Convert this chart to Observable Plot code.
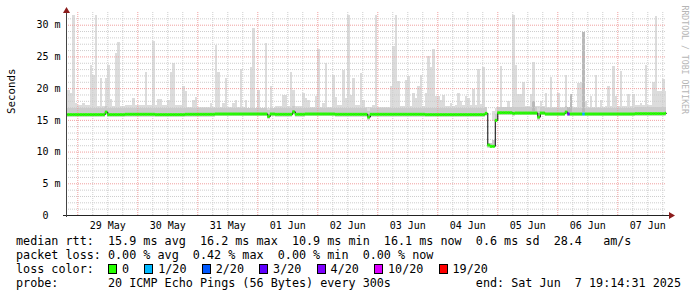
<!DOCTYPE html>
<html><head><meta charset="utf-8">
<script src="https://cdn.jsdelivr.net/npm/d3@7"></script>
<script src="https://cdn.jsdelivr.net/npm/@observablehq/plot@0.6"></script>
<style>
html,body{margin:0;padding:0;background:#fff;}
#wrap{position:relative;width:697px;height:297px;overflow:hidden;font-family:"DejaVu Sans Mono",monospace;}
#chart svg{display:block}
#legend{position:absolute;left:16px;top:234px;font-size:11.75px;line-height:14px;white-space:pre;color:#000;}
.box{display:inline-block;width:7px;height:8px;border:1px solid #000;vertical-align:-1px;margin-right:5px;}
.gap{display:inline-block;width:1px;}
</style></head><body>
<div id="wrap"><div id="chart"></div><div id="legend"></div></div>
<script>
// ---- time frame (UTC) ----
const BIN0 = Date.UTC(2025, 4, 28, 19, 0, 0);   // first hourly bin
const START = Date.UTC(2025, 4, 28, 19, 29, 0);
const END = Date.UTC(2025, 5, 7, 19, 29, 0);
const NBINS = 241;

// ---- smoke: hourly maxima of the spikes (ms) ----
const spikeHour = [0,1,2,3,4,7,10,11,12,14,16,17,18,20,21,27,32,35,37,38,41,42,43,47,48,51,52,58,60,61,63,64,67,68,70,72,74,75,77,80,82,87,88,90,91,95,96,97,100,101,103,104,107,108,111,112,113,114,115,118,119,123,124,128,129,130,131,132,133,136,137,139,140,141,142,144,145,146,147,148,149,150,151,154,157,158,160,161,163,165,166,167,174,177,179,180,181,182,183,186,187,190,192,194,197,200,202,205,206,207,208,210,212,214,217,219,220,222,225,227,230,232,235,236,237,238,239,240];
const spikeMax = [19.7,19.7,19.2,31.6,17.7,17.7,23.7,22.1,31.6,21.6,21.6,23.7,18.3,25.5,27.2,18.4,22.6,27.5,18.3,18.3,18.2,22.5,23.9,20.4,19.5,18.2,18.6,17.7,26.8,22.6,17.6,21.6,17.6,18.2,23.0,18.2,23.3,29.5,19.7,27.1,20.3,18.9,18.9,22.6,19.7,19.3,18.5,18.2,18.7,26.1,17.6,23.9,22.1,18.6,22.9,18.5,31.6,18.9,21.6,22.4,18.2,17.4,31.6,17.1,17.1,20.3,26.7,31.6,21.2,21.3,21.9,19.2,18.4,20.4,22.1,19.2,25.0,23.4,26.2,18.7,18.7,18.2,18.9,17.7,19.2,18.0,18.7,18.4,19.9,23.0,17.5,23.4,23.5,17.9,31.6,23.7,19.0,19.0,20.9,19.0,24.1,18.0,19.2,21.8,19.3,22.1,19.1,20.8,21.0,28.8,17.9,18.7,22.1,18.2,20.4,23.5,18.7,22.7,19.0,19.0,17.7,23.7,20.9,31.4,19.5,19.5,21.4,19.5];
// dense smoke top, per 12 hours
const bandTop12h = [17.3,17.2,17.3,17.3,17.0,17.0,16.9,17.2,17.1,17.3,17.0,17.2,17.2,17.3,17.0,17.2,17.1,17.0,17.2,17.3,17.3];
// smoke during the drop on 04 Jun
const smokeHour = [169,170,171,172];
const smokeTop  = [11.4,11.3,16.4,16.8];
const smokeLo   = [10.6,10.5,14.8,14.6];
// darker smoke patches
const darkHour = [187,201,202,207];
const darkTop  = [18.0,17.0,19.1,28.8];

// ---- median rtt (ms) ----
const medianBase12h = [15.9,15.9,15.95,15.9,15.95,16.0,16.0,15.95,16.0,15.95,15.95,15.95,15.9,15.9,16.1,16.15,16.0,16.0,16.0,16.05,16.1];
const medianHour  = [16,81,91,121,169,170,171,172,173,174,175,176,177,178,189,200,240];
const medianValue = [16.3,15.6,16.35,15.5,11.1,10.9,10.9,15.0,16.2,16.2,16.2,16.2,16.2,16.2,15.5,16.3,16.1];

// ---- packet loss colour ----
const lossLabels = ["0","1/20","2/20","3/20","4/20","10/20","19/20"];
const lossColors = ["#26ff00","#00b8ff","#0059ff","#5e00ff","#7e00ff","#dd00ff","#ff0000"];
const lossHour  = [201,207];
const lossLevel = ["4/20","1/20"];

// ---- axes ----
const yTicks = [0,5,10,15,20,25,30];
const dayLabels = ["29 May","30 May","31 May","01 Jun","02 Jun","03 Jun","04 Jun","05 Jun","06 Jun","07 Jun"];
const dayNoons = d3.range(10).map(i => new Date(Date.UTC(2025,4,29,12) + i*864e5));

// ---- text ----
const legendTop = [
  "median rtt:  15.9 ms avg  16.2 ms max  10.9 ms min  16.1 ms now  0.6 ms sd  28.4   am/s",
  "packet loss: 0.00 % avg  0.42 % max  0.00 % min  0.00 % now"
];
const probeText = "probe:       20 ICMP Echo Pings (56 Bytes) every 300s            end: Sat Jun  7 19:14:31 2025";

// ---- build tables ----
const H = 3600e3;
const median = d3.range(NBINS).map(k => medianBase12h[Math.floor(k/12)]);
medianHour.forEach((k,i) => median[k] = medianValue[i]);
const spikeMap = new Map(spikeHour.map((k,i)=>[k,spikeMax[i]]));
const smokeMap = new Map(smokeHour.map((k,i)=>[k,[smokeLo[i],smokeTop[i]]]));
const darkMap = new Map(darkHour.map((k,i)=>[k,darkTop[i]]));
const lossMap = new Map(lossHour.map((k,i)=>[k,lossLevel[i]]));

const bins = d3.range(NBINS).map(k => {
  const t1 = new Date(Math.max(BIN0 + k*H, START));
  const t2 = new Date(Math.min(BIN0 + (k+1)*H, END));
  const med = median[k];
  let lo = med - 0.45, top = Math.max(bandTop12h[Math.floor(k/12)], spikeMap.get(k) ?? 0);
  if (smokeMap.has(k)) [lo, top] = smokeMap.get(k);
  const loss = lossMap.get(k) ?? "0";
  return {k, t1, t2, med, lo, top,
    bandLo: med - 0.25, bandHi: Math.min(top, med + 0.9),
    dark: darkMap.get(k), color: lossColors[lossLabels.indexOf(loss)]};
}).filter(b => b.t2 > b.t1);
const linePts = bins.map(b => ({t: b.t1, v: b.med})).concat([{t: new Date(END), v: bins[bins.length-1].med}]);

const minorY = d3.range(1, 32).filter(v => v % 5 !== 0);
const majorY = [5,10,15,20,25,30];
const midnights = d3.range(10).map(i => new Date(Date.UTC(2025,4,29) + i*864e5));
const sixHours = d3.range(0, 11*4).map(i => new Date(Date.UTC(2025,4,28) + i*6*H))
  .filter(d => d > START && d < END && d.getUTCHours() !== 0);

const gridMinor = {stroke: "#cdcdcd", strokeDasharray: "1,1", strokeWidth: 1};
const gridMajor = {stroke: "#f0a0a0", strokeDasharray: "1,1", strokeWidth: 1};

const plot = Plot.plot({
  width: 697, height: 232,
  marginLeft: 66, marginRight: 31, marginTop: 12, marginBottom: 17,
  style: {fontFamily: "DejaVu Sans Mono", fontSize: "10px", color: "#000", background: "#fff"},
  x: {type: "utc", domain: [new Date(START), new Date(END)]},
  y: {domain: [0, 32]},
  marks: [
    Plot.rect(bins, {x1: "t1", x2: "t2", y1: "lo", y2: "top", fill: "#dcdcdc", inset: 0, shapeRendering: "crispEdges"}),
    Plot.rect(bins, {x1: "t1", x2: "t2", y1: "bandLo", y2: "bandHi", fill: "#cbcbcb", inset: 0, shapeRendering: "crispEdges"}),
    Plot.rect(bins.filter(b => b.dark), {x1: "t1", x2: "t2", y1: d => d.med + 0.3, y2: "dark", fill: "#b9b9b9", inset: 0, shapeRendering: "crispEdges"}),
    Plot.ruleY(minorY, gridMinor),
    Plot.ruleX(sixHours, gridMinor),
    Plot.ruleY(majorY, gridMajor),
    Plot.ruleX(midnights, gridMajor),
    Plot.line(linePts, {x: "t", y: "v", curve: "step-after", stroke: "#000", strokeWidth: 1}),
    Plot.ruleY(bins, {x1: "t1", x2: "t2", y: "med", stroke: "color", strokeWidth: 3}),
    Plot.axisY(yTicks, {tickSize: 0, tickPadding: 6, label: null,
      tickFormat: d => d === 0 ? "0\u00a0\u00a0" : d + " m"}),
    Plot.axisX(dayNoons, {tickSize: 0, tickPadding: 6, label: null,
      tickFormat: (d, i) => dayLabels[i]}),
    Plot.text(["Seconds"], {frameAnchor: "left", dx: -55, rotate: -90, fontSize: 10.8, fill: "#000"}),
    Plot.text(["RRDTOOL / TOBI OETIKER"], {frameAnchor: "top-right", dx: 21, dy: -7, rotate: 90,
      textAnchor: "start", fontSize: 8.2, fill: "#b5b5b5"})
  ]
});

// axis lines and arrows
const sx = plot.scale("x"), sy = plot.scale("y");
const x0 = sx.apply(new Date(START)), x1 = sx.apply(new Date(END));
const y0 = sy.apply(0), yTop = sy.apply(32);
const g = d3.select(plot).append("g");
g.append("line").attr("x1", x0 - 3).attr("x2", x1 + 3).attr("y1", y0 + 0.5).attr("y2", y0 + 0.5)
  .attr("stroke", "#222").attr("stroke-width", 1);
g.append("line").attr("x1", x0 + 0.5).attr("x2", x0 + 0.5).attr("y1", y0 + 2).attr("y2", yTop - 2)
  .attr("stroke", "#444").attr("stroke-width", 1);
g.append("path").attr("d", `M${x0+0.5},${yTop-5}L${x0-3},${yTop+1}L${x0+4},${yTop+1}Z`).attr("fill", "#8b1c1c");
g.append("path").attr("d", `M${x1+9},${y0+0.5}L${x1+3},${y0-3}L${x1+3},${y0+4}Z`).attr("fill", "#8b1c1c");

document.getElementById("chart").appendChild(plot);

// legend text
const leg = document.getElementById("legend");
legendTop.forEach(s => { const d = document.createElement("div"); d.textContent = s; leg.appendChild(d); });
const lc = document.createElement("div");
lc.appendChild(document.createTextNode("loss color:  "));
lossLabels.forEach((lab, i) => {
  if (i > 0) { lc.appendChild(document.createTextNode("  ")); const gp = document.createElement("span"); gp.className = "gap"; lc.appendChild(gp); }
  const b = document.createElement("span"); b.className = "box"; b.style.background = lossColors[i]; lc.appendChild(b);
  lc.appendChild(document.createTextNode(lab));
});
leg.appendChild(lc);
const pr = document.createElement("div"); pr.textContent = probeText; leg.appendChild(pr);
</script>
</body></html>
